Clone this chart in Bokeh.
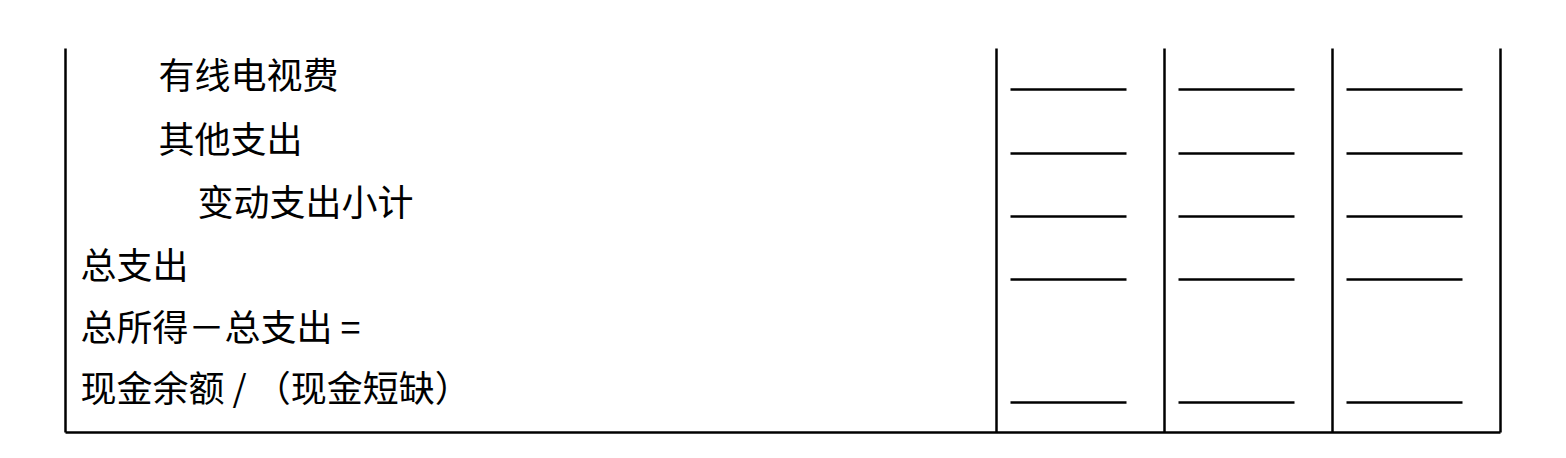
from bokeh.plotting import figure
from bokeh.embed import file_html
from bokeh.resources import INLINE
from bokeh.core.properties import value

# table rows
labels = ["有线电视费", "其他支出", "变动支出小计", "总支出", "总所得－总支出 =", "现金余额 / （现金短缺）"]
indent = [2, 2, 3, 0, 0, 0]
row_y = [72, 136, 199, 262, 324, 385]
has_blank = [True, True, True, True, False, True]

# column layout (page pixels)
col_edges = [996, 1164, 1332, 1500]
left_x = 65
top_y = 48
bottom_y = 432

p = figure(width=1550, height=442, x_range=(0, 1550), y_range=(442, 0),
           output_backend="svg", toolbar_location=None, tools=[],
           min_border=0, outline_line_color=None)
p.axis.visible = False
p.grid.visible = False

# text
xs = [80 + 39 * i for i in indent]
p.text(xs, row_y, text=labels, text_font=value("Noto Sans CJK SC"),
       text_font_size="36px", text_baseline="middle", text_color="black")

# frame lines
vx = [left_x] + col_edges
p.segment(vx, [top_y] * len(vx), vx, [bottom_y] * len(vx), line_color="black", line_width=2.5)
p.segment([left_x], [bottom_y], [col_edges[-1]], [bottom_y], line_color="black", line_width=2.5)

# blanks to fill in
bx0, bx1, by = [], [], []
for y, b in zip(row_y, has_blank):
    if not b:
        continue
    for e in col_edges[:3]:
        bx0.append(e + 14)
        bx1.append(e + 130)
        by.append(y + 17)
p.segment(bx0, by, bx1, by, line_color="black", line_width=2.5)

open("out.html", "w").write(file_html(p, INLINE))
